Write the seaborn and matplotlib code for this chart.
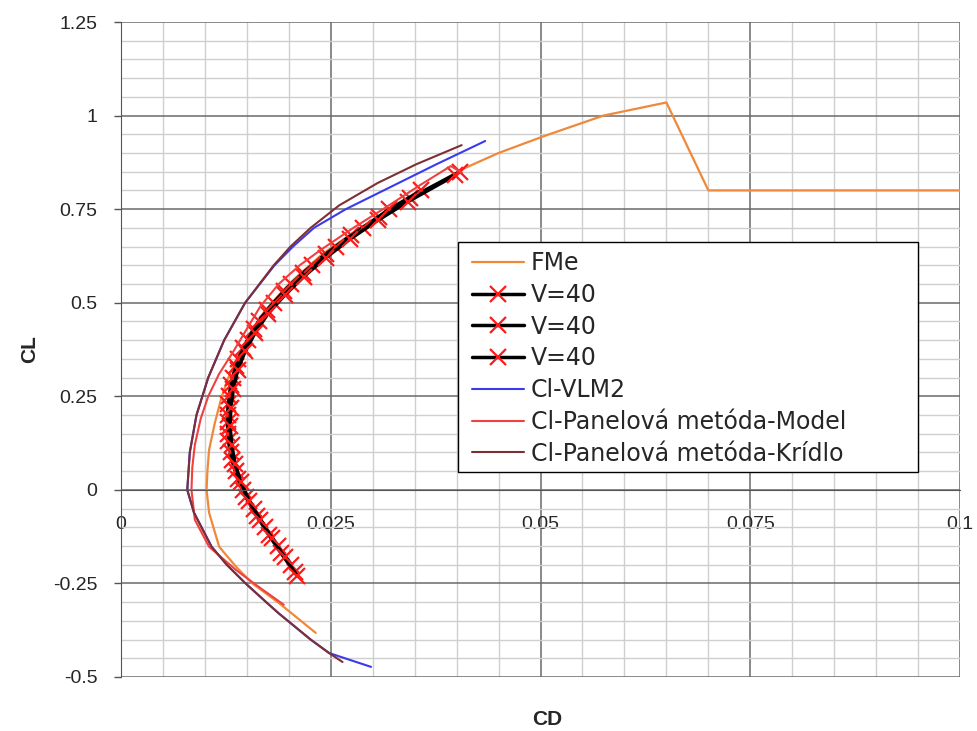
import numpy as np
import matplotlib
matplotlib.use("Agg")
import matplotlib.pyplot as plt
from matplotlib.patches import Rectangle
import seaborn as sns

# ---------------------------------
# Data
# ---------------------------------
fme_cd = [0.0232, 0.0188, 0.0156, 0.0137, 0.0117, 0.0105, 0.0102, 0.0103, 0.0105, 0.0112, 0.0120,
          0.0128, 0.0140, 0.0155, 0.0172, 0.0200, 0.0240, 0.0285, 0.0330, 0.0370, 0.0406,
          0.0450, 0.0504, 0.0575, 0.0650, 0.0700, 0.1000]
fme_cl = [-0.382, -0.302, -0.249, -0.205, -0.152, -0.061, 0.000, 0.050, 0.107, 0.180, 0.249,
          0.300, 0.360, 0.420, 0.480, 0.550, 0.630, 0.700, 0.760, 0.810, 0.856,
          0.900, 0.945, 1.000, 1.035, 0.800, 0.800]

v40a_cl = [-0.22, -0.17, -0.12, -0.07, -0.02, 0.03, 0.08, 0.13, 0.18, 0.23, 0.28,
           0.33, 0.38, 0.43, 0.48, 0.53, 0.58, 0.63, 0.68, 0.73, 0.78, 0.85]
v40a_cd = [0.0207, 0.0191, 0.0176, 0.0162, 0.0149, 0.0139, 0.0132, 0.0128, 0.0127, 0.0128, 0.0131,
           0.0137, 0.0146, 0.0158, 0.0174, 0.0194, 0.0217, 0.0244, 0.0274, 0.0308, 0.0345, 0.0404]

v40b_cl = [-0.20, -0.15, -0.10, -0.05, 0.00, 0.05, 0.10, 0.15, 0.20, 0.25, 0.30,
           0.35, 0.40, 0.45, 0.50, 0.55, 0.60, 0.65, 0.70, 0.75, 0.80]
v40b_cd = [0.0203, 0.0187, 0.0172, 0.0158, 0.0146, 0.0137, 0.0131, 0.0128, 0.0127, 0.0129, 0.0133,
           0.0140, 0.0151, 0.0164, 0.0182, 0.0203, 0.0228, 0.0256, 0.0288, 0.0320, 0.0358]

v40c_cl = [-0.23, -0.18, -0.13, -0.08, -0.03, 0.02, 0.07, 0.12, 0.17, 0.22, 0.27,
           0.32, 0.37, 0.42, 0.47, 0.52, 0.57, 0.62, 0.67, 0.72, 0.77, 0.84]
v40c_cd = [0.0210, 0.0195, 0.0180, 0.0166, 0.0153, 0.0143, 0.0136, 0.0132, 0.0130, 0.0131, 0.0134,
           0.0139, 0.0148, 0.0160, 0.0175, 0.0195, 0.0218, 0.0244, 0.0273, 0.0306, 0.0342, 0.0398]

vlm_cd = [0.0298, 0.0248, 0.0226, 0.0188, 0.0173, 0.0148, 0.0126, 0.0108, 0.0096, 0.0087, 0.0079,
          0.0082, 0.0090, 0.0104, 0.0123, 0.0148, 0.0183, 0.0205, 0.0230, 0.0268, 0.0322, 0.0376, 0.0434]
vlm_cl = [-0.473, -0.436, -0.400, -0.330, -0.300, -0.249, -0.200, -0.152, -0.100, -0.061, 0.000,
          0.100, 0.200, 0.300, 0.400, 0.500, 0.600, 0.650, 0.700, 0.750, 0.810, 0.870, 0.932]

model_cd = [0.0194, 0.0164, 0.0137, 0.0105, 0.0088, 0.0084, 0.0085, 0.0088, 0.0095, 0.0104, 0.0117,
            0.0134, 0.0150, 0.0166, 0.0188, 0.0213, 0.0238, 0.0277, 0.0320, 0.0357, 0.0393, 0.0406]
model_cl = [-0.307, -0.259, -0.214, -0.152, -0.080, 0.000, 0.060, 0.120, 0.190, 0.250, 0.310,
            0.370, 0.430, 0.490, 0.550, 0.600, 0.641, 0.700, 0.761, 0.815, 0.865, 0.848]

kridlo_cd = [0.0264, 0.0248, 0.0226, 0.0188, 0.0173, 0.0148, 0.0126, 0.0108, 0.0096, 0.0087, 0.0079,
             0.0082, 0.0090, 0.0104, 0.0123, 0.0148, 0.0182, 0.0202, 0.0226, 0.0260, 0.0306, 0.0352, 0.0406]
kridlo_cl = [-0.460, -0.436, -0.400, -0.330, -0.300, -0.249, -0.200, -0.152, -0.100, -0.061, 0.000,
             0.100, 0.200, 0.300, 0.400, 0.500, 0.600, 0.650, 0.700, 0.760, 0.820, 0.870, 0.921]

xtick_vals = [0, 0.025, 0.05, 0.075, 0.1]
xtick_labels = ["0", "0.025", "0.05", "0.075", "0.1"]
ytick_vals = [-0.5, -0.25, 0, 0.25, 0.5, 0.75, 1, 1.25]
ytick_labels = ["-0.5", "-0.25", "0", "0.25", "0.5", "0.75", "1", "1.25"]

# ---------------------------------
# Plot
# ---------------------------------
sns.set_style("white")
plt.rcParams['font.family'] = ['Liberation Sans Narrow', 'Liberation Sans', 'DejaVu Sans']

fig = plt.figure(figsize=(9.78, 7.31), dpi=100)
ax = fig.add_axes([0.1237, 0.0739, 0.858, 0.896])

orange = "#F0883A"
blue = "#3A3AEE"
red = "#F04040"
brown = "#7E2F35"

sns.lineplot(x=fme_cd, y=fme_cl, sort=False, estimator=None, color=orange, lw=1.6, label="FMe", ax=ax)
for cd, cl in [(v40a_cd, v40a_cl), (v40b_cd, v40b_cl), (v40c_cd, v40c_cl)]:
    sns.lineplot(x=cd, y=cl, sort=False, estimator=None, color="black", lw=2.5,
                 marker="x", markersize=11, markeredgecolor="#FF1A1A", markeredgewidth=1.6,
                 label="V=40", ax=ax)
sns.lineplot(x=vlm_cd, y=vlm_cl, sort=False, estimator=None, color=blue, lw=1.5, label="Cl-VLM2", ax=ax)
sns.lineplot(x=model_cd, y=model_cl, sort=False, estimator=None, color=red, lw=1.5,
             label="Cl-Panelová metóda-Model", ax=ax)
sns.lineplot(x=kridlo_cd, y=kridlo_cl, sort=False, estimator=None, color=brown, lw=1.5,
             label="Cl-Panelová metóda-Krídlo", ax=ax)

ax.set_xlim(0, 0.1)
ax.set_ylim(-0.5, 1.25)

# grid: major every 0.025 / 0.25, minor every 0.005 / 0.05
ax.set_xticks(xtick_vals)
ax.set_xticklabels(xtick_labels)
ax.set_yticks(ytick_vals)
ax.set_yticklabels(ytick_labels)
ax.set_xticks(np.arange(0, 0.1001, 0.005), minor=True)
ax.set_yticks(np.arange(-0.5, 1.2501, 0.05), minor=True)
ax.grid(which="minor", color="#CFCFCF", lw=1.0)
ax.grid(which="major", color="#6A6A6A", lw=1.1)
ax.set_axisbelow(True)

for s in ["top", "right"]:
    ax.spines[s].set_visible(False)
ax.spines["left"].set_color("#555555")
ax.spines["bottom"].set_color("#555555")
ax.spines["bottom"].set_position(("data", 0))

ax.tick_params(axis="x", which="both", length=0, pad=19, labelsize=14)
ax.tick_params(axis="y", which="major", length=5, width=1, color="#555555", direction="out",
               pad=12, labelsize=14, left=True)
ax.tick_params(axis="y", which="minor", length=0)

ax.set_xlabel("CD", fontsize=15, fontweight="bold", family=["Liberation Sans", "DejaVu Sans"])
ax.xaxis.set_label_coords(0.508, -0.05)
ax.set_ylabel("CL", fontsize=15, fontweight="bold", family=["Liberation Sans", "DejaVu Sans"])
ax.yaxis.set_label_coords(-0.098, 0.5)

# chart title, cut off at the top edge as in the source image
fig.text(227 / 978, 1.0 + 6 / 731, "Závislosť CL na CD – typ krídla a modelu, metódy",
         ha="left", va="baseline", fontsize=20, fontweight="bold",
         family=["Liberation Sans", "DejaVu Sans"])

# legend: Excel-like box drawn as a figure patch, entries on top of it
handles, labels = ax.get_legend_handles_labels()
if ax.get_legend() is not None:
    ax.get_legend().remove()
box = Rectangle((458 / 978, 1 - 472 / 731), 460 / 978, 230 / 731, transform=fig.transFigure,
                facecolor="white", edgecolor="black", lw=1.0, zorder=4)
fig.add_artist(box)
leg = fig.legend(handles, labels, loc="upper left", bbox_to_anchor=(472 / 978, 1 - 251 / 731),
                 frameon=False, prop={"family": "DejaVu Sans", "size": 17}, handlelength=2.2,
                 handletextpad=0.3, labelspacing=0.33, borderpad=0, borderaxespad=0)
leg.set_zorder(5)

fig.savefig("out.png", dpi=100)
